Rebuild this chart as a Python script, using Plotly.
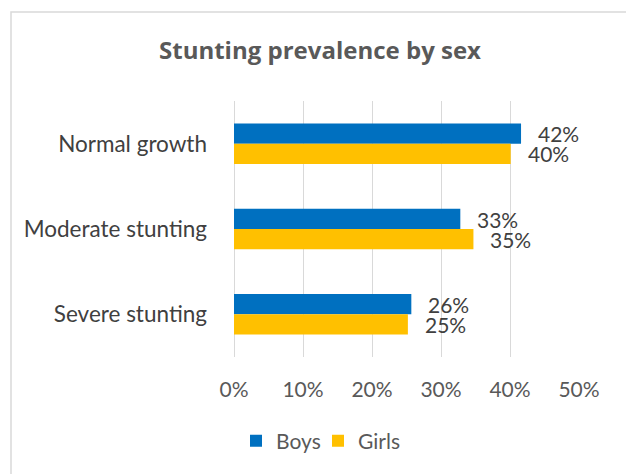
import plotly.graph_objects as go

# Stunting prevalence (share of children) by growth category and sex
categories = ["Normal growth", "Moderate stunting", "Severe stunting"]
boys = [0.416, 0.328, 0.257]
girls = [0.401, 0.347, 0.252]
x_ticks = [0, 0.1, 0.2, 0.3, 0.4, 0.5]
x_tick_labels = ["0%", "10%", "20%", "30%", "40%", "50%"]

BLUE = "#0070C0"
GOLD = "#FFC000"
FONT = "Lato"

W, H = 626, 474
L, R, T, B = 234, 47, 101, 117
plot_w = W - L - R
plot_h = H - T - B

fig = go.Figure()
fig.add_trace(go.Bar(name="Boys", y=categories, x=boys, orientation="h",
                     marker=dict(color=BLUE, line=dict(width=0))))
fig.add_trace(go.Bar(name="Girls", y=categories, x=girls, orientation="h",
                     marker=dict(color=GOLD, line=dict(width=0))))

# value labels just past the end of each bar
annotations = []
for series, shift in ((boys, 10), (girls, -10)):
    for cat, v in zip(categories, series):
        annotations.append(dict(
            x=v, y=cat, xref="x", yref="y", text=f"{v:.0%}",
            showarrow=False, xanchor="left", yanchor="middle",
            xshift=15, yshift=shift,
            font=dict(family=FONT, size=21, color="#404040")))

# light chart-area frame (left and top edges fall inside the view)
shapes = [dict(type="rect", xref="paper", yref="paper",
               x0=(11 - L) / plot_w, x1=3,
               y0=-3, y1=(H - B - 12) / plot_h,
               line=dict(color="#D9D9D9", width=1.5),
               fillcolor="rgba(0,0,0,0)", layer="below")]

fig.update_layout(
    width=W, height=H,
    margin=dict(l=L, r=R, t=T, b=B, pad=0),
    paper_bgcolor="white", plot_bgcolor="white",
    barmode="group", bargap=0.526, bargroupgap=0,
    title=dict(text="<b>Stunting prevalence by sex</b>",
               x=320 / W, xref="container", xanchor="center",
               y=1 - 51 / H, yref="container", yanchor="middle",
               font=dict(family="Open Sans", size=24, color="#595959")),
    xaxis=dict(range=[0, 0.5], tickvals=x_ticks, ticktext=x_tick_labels,
               showgrid=True, gridcolor="#D9D9D9", gridwidth=1.2,
               zeroline=True, zerolinecolor="#D9D9D9", zerolinewidth=1.2,
               showline=False, ticks="", ticklabelstandoff=18,
               tickfont=dict(family=FONT, size=21, color="#595959")),
    yaxis=dict(autorange="reversed", showgrid=False, zeroline=False,
               showline=False, ticks="", ticklabelstandoff=26,
               tickfont=dict(family=FONT, size=22.5, color="#404040")),
    legend=dict(orientation="h", x=(318 - L) / plot_w, xanchor="center",
                y=-(441 - (H - B)) / plot_h, yanchor="middle",
                font=dict(family=FONT, size=21, color="#595959"),
                itemwidth=30, entrywidth=37, entrywidthmode="pixels",
                traceorder="normal"),
    annotations=annotations,
    shapes=shapes,
)

fig.write_html("out.html")
